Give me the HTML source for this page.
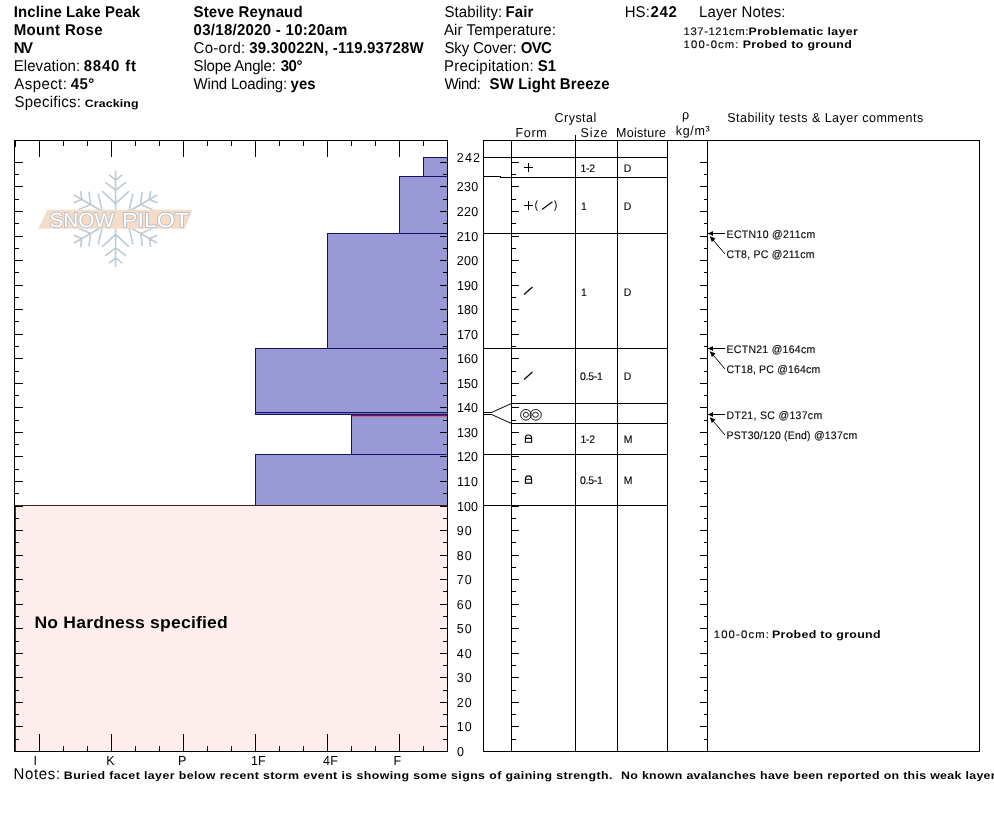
<!DOCTYPE html>
<html><head><meta charset="utf-8"><title>Snow Pit Profile</title>
<style>html,body{margin:0;padding:0;background:#fff;overflow:hidden}svg{display:block;font-family:'Liberation Sans', sans-serif}text{white-space:pre;text-rendering:geometricPrecision}</style>
</head><body>
<svg width="994" height="840" viewBox="0 0 994 840" shape-rendering="auto">
<rect width="994" height="840" fill="#fff"/>
<g stroke="#bccad4" stroke-width="1.6" fill="none" stroke-linecap="round"><g transform="rotate(0 115.6 219)"><path d="M115.6 219V171.5 M115.6 180.1L109.3 175M115.6 180.1L121.9 175 M115.6 190.1L105.7 182.6M115.6 190.1L125.5 182.6 M115.6 203.7L102.7 191.7M115.6 203.7L128.5 191.7"/></g><g transform="rotate(60 115.6 219)"><path d="M115.6 219V171.5 M115.6 180.1L109.3 175M115.6 180.1L121.9 175 M115.6 190.1L105.7 182.6M115.6 190.1L125.5 182.6 M115.6 203.7L102.7 191.7M115.6 203.7L128.5 191.7"/></g><g transform="rotate(120 115.6 219)"><path d="M115.6 219V171.5 M115.6 180.1L109.3 175M115.6 180.1L121.9 175 M115.6 190.1L105.7 182.6M115.6 190.1L125.5 182.6 M115.6 203.7L102.7 191.7M115.6 203.7L128.5 191.7"/></g><g transform="rotate(180 115.6 219)"><path d="M115.6 219V171.5 M115.6 180.1L109.3 175M115.6 180.1L121.9 175 M115.6 190.1L105.7 182.6M115.6 190.1L125.5 182.6 M115.6 203.7L102.7 191.7M115.6 203.7L128.5 191.7"/></g><g transform="rotate(240 115.6 219)"><path d="M115.6 219V171.5 M115.6 180.1L109.3 175M115.6 180.1L121.9 175 M115.6 190.1L105.7 182.6M115.6 190.1L125.5 182.6 M115.6 203.7L102.7 191.7M115.6 203.7L128.5 191.7"/></g><g transform="rotate(300 115.6 219)"><path d="M115.6 219V171.5 M115.6 180.1L109.3 175M115.6 180.1L121.9 175 M115.6 190.1L105.7 182.6M115.6 190.1L125.5 182.6 M115.6 203.7L102.7 191.7M115.6 203.7L128.5 191.7"/></g></g><path d="M47.5 209.8H192.7L184.8 228.8H38.1Z" fill="#f3ddc9"/><g font-size="20.5" fill="#fff" stroke="#babdc1" stroke-width="1.7" paint-order="stroke" stroke-linejoin="round"><text x="49.5" y="226.9" textLength="64.5" lengthAdjust="spacingAndGlyphs">SNOW</text><text x="122" y="226.9" textLength="67" lengthAdjust="spacingAndGlyphs">PILOT</text></g>
<rect x="15" y="505" width="433" height="246" fill="#ffeeee"/>
<rect x="423" y="157" width="25" height="20" fill="#9999d6"/>
<rect x="399" y="176" width="49" height="58" fill="#9999d6"/>
<rect x="327" y="233" width="121" height="116" fill="#9999d6"/>
<rect x="255" y="348" width="193" height="65" fill="#9999d6"/>
<rect x="255" y="412" width="193" height="3" fill="#9999d6"/>
<rect x="351" y="414" width="97" height="41" fill="#9999d6"/>
<rect x="255" y="454" width="193" height="52" fill="#9999d6"/>
<rect x="423.5" y="157.5" width="24" height="19" fill="none" stroke="#15115f" stroke-width="1"/>
<rect x="399.5" y="176.5" width="48" height="57" fill="none" stroke="#15115f" stroke-width="1"/>
<rect x="327.5" y="233.5" width="120" height="115" fill="none" stroke="#15115f" stroke-width="1"/>
<rect x="255.5" y="348.5" width="192" height="64" fill="none" stroke="#15115f" stroke-width="1"/>
<rect x="255.5" y="412.5" width="192" height="2" fill="none" stroke="#15115f" stroke-width="1"/>
<rect x="351.5" y="414.5" width="96" height="40" fill="none" stroke="#15115f" stroke-width="1"/>
<rect x="255.5" y="454.5" width="192" height="51" fill="none" stroke="#15115f" stroke-width="1"/>
<rect x="256" y="413" width="191" height="1" fill="#7a78d8"/>
<rect x="352" y="415" width="96" height="1" fill="#7a1c5e"/>
<rect x="352" y="416" width="96" height="1" fill="#c06a9c"/>
<rect x="14" y="505" width="434" height="1" fill="#4a1c14"/>
<rect x="15" y="506" width="1" height="245" fill="#5a2a20"/>
<rect x="14.5" y="140.5" width="433" height="611" fill="none" stroke="#000"/>
<rect x="39" y="141" width="1" height="16" fill="#000"/>
<rect x="39" y="734" width="1" height="17" fill="#000"/>
<rect x="63" y="141" width="1" height="5" fill="#000"/>
<rect x="63" y="746" width="1" height="5" fill="#000"/>
<rect x="87" y="141" width="1" height="5" fill="#000"/>
<rect x="87" y="746" width="1" height="5" fill="#000"/>
<rect x="111" y="141" width="1" height="16" fill="#000"/>
<rect x="111" y="734" width="1" height="17" fill="#000"/>
<rect x="135" y="141" width="1" height="5" fill="#000"/>
<rect x="135" y="746" width="1" height="5" fill="#000"/>
<rect x="159" y="141" width="1" height="5" fill="#000"/>
<rect x="159" y="746" width="1" height="5" fill="#000"/>
<rect x="183" y="141" width="1" height="16" fill="#000"/>
<rect x="183" y="734" width="1" height="17" fill="#000"/>
<rect x="207" y="141" width="1" height="5" fill="#000"/>
<rect x="207" y="746" width="1" height="5" fill="#000"/>
<rect x="231" y="141" width="1" height="5" fill="#000"/>
<rect x="231" y="746" width="1" height="5" fill="#000"/>
<rect x="255" y="141" width="1" height="16" fill="#000"/>
<rect x="255" y="734" width="1" height="17" fill="#000"/>
<rect x="279" y="141" width="1" height="5" fill="#000"/>
<rect x="279" y="746" width="1" height="5" fill="#000"/>
<rect x="303" y="141" width="1" height="5" fill="#000"/>
<rect x="303" y="746" width="1" height="5" fill="#000"/>
<rect x="327" y="141" width="1" height="16" fill="#000"/>
<rect x="327" y="734" width="1" height="17" fill="#000"/>
<rect x="351" y="141" width="1" height="5" fill="#000"/>
<rect x="351" y="746" width="1" height="5" fill="#000"/>
<rect x="375" y="141" width="1" height="5" fill="#000"/>
<rect x="375" y="746" width="1" height="5" fill="#000"/>
<rect x="399" y="141" width="1" height="16" fill="#000"/>
<rect x="399" y="734" width="1" height="17" fill="#000"/>
<rect x="423" y="141" width="1" height="5" fill="#000"/>
<rect x="423" y="746" width="1" height="5" fill="#000"/>
<rect x="15" y="141" width="1" height="6" fill="#000"/>
<rect x="15" y="739" width="4" height="1" fill="#000"/>
<rect x="443" y="739" width="4" height="1" fill="#000"/>
<rect x="512" y="739" width="4" height="1" fill="#000"/>
<rect x="704" y="739" width="3" height="1" fill="#000"/>
<rect x="15" y="726" width="8" height="1" fill="#000"/>
<rect x="440" y="726" width="7" height="1" fill="#000"/>
<rect x="512" y="726" width="7" height="1" fill="#000"/>
<rect x="700" y="726" width="7" height="1" fill="#000"/>
<rect x="15" y="714" width="4" height="1" fill="#000"/>
<rect x="443" y="714" width="4" height="1" fill="#000"/>
<rect x="512" y="714" width="4" height="1" fill="#000"/>
<rect x="704" y="714" width="3" height="1" fill="#000"/>
<rect x="15" y="702" width="8" height="1" fill="#000"/>
<rect x="440" y="702" width="7" height="1" fill="#000"/>
<rect x="512" y="702" width="7" height="1" fill="#000"/>
<rect x="700" y="702" width="7" height="1" fill="#000"/>
<rect x="15" y="690" width="4" height="1" fill="#000"/>
<rect x="443" y="690" width="4" height="1" fill="#000"/>
<rect x="512" y="690" width="4" height="1" fill="#000"/>
<rect x="704" y="690" width="3" height="1" fill="#000"/>
<rect x="15" y="677" width="8" height="1" fill="#000"/>
<rect x="440" y="677" width="7" height="1" fill="#000"/>
<rect x="512" y="677" width="7" height="1" fill="#000"/>
<rect x="700" y="677" width="7" height="1" fill="#000"/>
<rect x="15" y="665" width="4" height="1" fill="#000"/>
<rect x="443" y="665" width="4" height="1" fill="#000"/>
<rect x="512" y="665" width="4" height="1" fill="#000"/>
<rect x="704" y="665" width="3" height="1" fill="#000"/>
<rect x="15" y="653" width="8" height="1" fill="#000"/>
<rect x="440" y="653" width="7" height="1" fill="#000"/>
<rect x="512" y="653" width="7" height="1" fill="#000"/>
<rect x="700" y="653" width="7" height="1" fill="#000"/>
<rect x="15" y="641" width="4" height="1" fill="#000"/>
<rect x="443" y="641" width="4" height="1" fill="#000"/>
<rect x="512" y="641" width="4" height="1" fill="#000"/>
<rect x="704" y="641" width="3" height="1" fill="#000"/>
<rect x="15" y="628" width="8" height="1" fill="#000"/>
<rect x="440" y="628" width="7" height="1" fill="#000"/>
<rect x="512" y="628" width="7" height="1" fill="#000"/>
<rect x="700" y="628" width="7" height="1" fill="#000"/>
<rect x="15" y="616" width="4" height="1" fill="#000"/>
<rect x="443" y="616" width="4" height="1" fill="#000"/>
<rect x="512" y="616" width="4" height="1" fill="#000"/>
<rect x="704" y="616" width="3" height="1" fill="#000"/>
<rect x="15" y="604" width="8" height="1" fill="#000"/>
<rect x="440" y="604" width="7" height="1" fill="#000"/>
<rect x="512" y="604" width="7" height="1" fill="#000"/>
<rect x="700" y="604" width="7" height="1" fill="#000"/>
<rect x="15" y="591" width="4" height="1" fill="#000"/>
<rect x="443" y="591" width="4" height="1" fill="#000"/>
<rect x="512" y="591" width="4" height="1" fill="#000"/>
<rect x="704" y="591" width="3" height="1" fill="#000"/>
<rect x="15" y="579" width="8" height="1" fill="#000"/>
<rect x="440" y="579" width="7" height="1" fill="#000"/>
<rect x="512" y="579" width="7" height="1" fill="#000"/>
<rect x="700" y="579" width="7" height="1" fill="#000"/>
<rect x="15" y="567" width="4" height="1" fill="#000"/>
<rect x="443" y="567" width="4" height="1" fill="#000"/>
<rect x="512" y="567" width="4" height="1" fill="#000"/>
<rect x="704" y="567" width="3" height="1" fill="#000"/>
<rect x="15" y="555" width="8" height="1" fill="#000"/>
<rect x="440" y="555" width="7" height="1" fill="#000"/>
<rect x="512" y="555" width="7" height="1" fill="#000"/>
<rect x="700" y="555" width="7" height="1" fill="#000"/>
<rect x="15" y="542" width="4" height="1" fill="#000"/>
<rect x="443" y="542" width="4" height="1" fill="#000"/>
<rect x="512" y="542" width="4" height="1" fill="#000"/>
<rect x="704" y="542" width="3" height="1" fill="#000"/>
<rect x="15" y="530" width="8" height="1" fill="#000"/>
<rect x="440" y="530" width="7" height="1" fill="#000"/>
<rect x="512" y="530" width="7" height="1" fill="#000"/>
<rect x="700" y="530" width="7" height="1" fill="#000"/>
<rect x="15" y="518" width="4" height="1" fill="#000"/>
<rect x="443" y="518" width="4" height="1" fill="#000"/>
<rect x="512" y="518" width="4" height="1" fill="#000"/>
<rect x="704" y="518" width="3" height="1" fill="#000"/>
<rect x="15" y="506" width="8" height="1" fill="#000"/>
<rect x="440" y="506" width="7" height="1" fill="#000"/>
<rect x="512" y="506" width="7" height="1" fill="#000"/>
<rect x="700" y="506" width="7" height="1" fill="#000"/>
<rect x="15" y="493" width="4" height="1" fill="#000"/>
<rect x="443" y="493" width="4" height="1" fill="#000"/>
<rect x="512" y="493" width="4" height="1" fill="#000"/>
<rect x="704" y="493" width="3" height="1" fill="#000"/>
<rect x="15" y="481" width="8" height="1" fill="#000"/>
<rect x="440" y="481" width="7" height="1" fill="#000"/>
<rect x="512" y="481" width="7" height="1" fill="#000"/>
<rect x="700" y="481" width="7" height="1" fill="#000"/>
<rect x="15" y="469" width="4" height="1" fill="#000"/>
<rect x="443" y="469" width="4" height="1" fill="#000"/>
<rect x="512" y="469" width="4" height="1" fill="#000"/>
<rect x="704" y="469" width="3" height="1" fill="#000"/>
<rect x="15" y="456" width="8" height="1" fill="#000"/>
<rect x="440" y="456" width="7" height="1" fill="#000"/>
<rect x="512" y="456" width="7" height="1" fill="#000"/>
<rect x="700" y="456" width="7" height="1" fill="#000"/>
<rect x="15" y="444" width="4" height="1" fill="#000"/>
<rect x="443" y="444" width="4" height="1" fill="#000"/>
<rect x="512" y="444" width="4" height="1" fill="#000"/>
<rect x="704" y="444" width="3" height="1" fill="#000"/>
<rect x="15" y="432" width="8" height="1" fill="#000"/>
<rect x="440" y="432" width="7" height="1" fill="#000"/>
<rect x="512" y="432" width="7" height="1" fill="#000"/>
<rect x="700" y="432" width="7" height="1" fill="#000"/>
<rect x="15" y="420" width="4" height="1" fill="#000"/>
<rect x="443" y="420" width="4" height="1" fill="#000"/>
<rect x="512" y="420" width="4" height="1" fill="#000"/>
<rect x="704" y="420" width="3" height="1" fill="#000"/>
<rect x="15" y="407" width="8" height="1" fill="#000"/>
<rect x="440" y="407" width="7" height="1" fill="#000"/>
<rect x="512" y="407" width="7" height="1" fill="#000"/>
<rect x="700" y="407" width="7" height="1" fill="#000"/>
<rect x="15" y="395" width="4" height="1" fill="#000"/>
<rect x="443" y="395" width="4" height="1" fill="#000"/>
<rect x="512" y="395" width="4" height="1" fill="#000"/>
<rect x="704" y="395" width="3" height="1" fill="#000"/>
<rect x="15" y="383" width="8" height="1" fill="#000"/>
<rect x="440" y="383" width="7" height="1" fill="#000"/>
<rect x="512" y="383" width="7" height="1" fill="#000"/>
<rect x="700" y="383" width="7" height="1" fill="#000"/>
<rect x="15" y="371" width="4" height="1" fill="#000"/>
<rect x="443" y="371" width="4" height="1" fill="#000"/>
<rect x="512" y="371" width="4" height="1" fill="#000"/>
<rect x="704" y="371" width="3" height="1" fill="#000"/>
<rect x="15" y="358" width="8" height="1" fill="#000"/>
<rect x="440" y="358" width="7" height="1" fill="#000"/>
<rect x="512" y="358" width="7" height="1" fill="#000"/>
<rect x="700" y="358" width="7" height="1" fill="#000"/>
<rect x="15" y="346" width="4" height="1" fill="#000"/>
<rect x="443" y="346" width="4" height="1" fill="#000"/>
<rect x="512" y="346" width="4" height="1" fill="#000"/>
<rect x="704" y="346" width="3" height="1" fill="#000"/>
<rect x="15" y="334" width="8" height="1" fill="#000"/>
<rect x="440" y="334" width="7" height="1" fill="#000"/>
<rect x="512" y="334" width="7" height="1" fill="#000"/>
<rect x="700" y="334" width="7" height="1" fill="#000"/>
<rect x="15" y="321" width="4" height="1" fill="#000"/>
<rect x="443" y="321" width="4" height="1" fill="#000"/>
<rect x="512" y="321" width="4" height="1" fill="#000"/>
<rect x="704" y="321" width="3" height="1" fill="#000"/>
<rect x="15" y="309" width="8" height="1" fill="#000"/>
<rect x="440" y="309" width="7" height="1" fill="#000"/>
<rect x="512" y="309" width="7" height="1" fill="#000"/>
<rect x="700" y="309" width="7" height="1" fill="#000"/>
<rect x="15" y="297" width="4" height="1" fill="#000"/>
<rect x="443" y="297" width="4" height="1" fill="#000"/>
<rect x="512" y="297" width="4" height="1" fill="#000"/>
<rect x="704" y="297" width="3" height="1" fill="#000"/>
<rect x="15" y="285" width="8" height="1" fill="#000"/>
<rect x="440" y="285" width="7" height="1" fill="#000"/>
<rect x="512" y="285" width="7" height="1" fill="#000"/>
<rect x="700" y="285" width="7" height="1" fill="#000"/>
<rect x="15" y="272" width="4" height="1" fill="#000"/>
<rect x="443" y="272" width="4" height="1" fill="#000"/>
<rect x="512" y="272" width="4" height="1" fill="#000"/>
<rect x="704" y="272" width="3" height="1" fill="#000"/>
<rect x="15" y="260" width="8" height="1" fill="#000"/>
<rect x="440" y="260" width="7" height="1" fill="#000"/>
<rect x="512" y="260" width="7" height="1" fill="#000"/>
<rect x="700" y="260" width="7" height="1" fill="#000"/>
<rect x="15" y="248" width="4" height="1" fill="#000"/>
<rect x="443" y="248" width="4" height="1" fill="#000"/>
<rect x="512" y="248" width="4" height="1" fill="#000"/>
<rect x="704" y="248" width="3" height="1" fill="#000"/>
<rect x="15" y="236" width="8" height="1" fill="#000"/>
<rect x="440" y="236" width="7" height="1" fill="#000"/>
<rect x="512" y="236" width="7" height="1" fill="#000"/>
<rect x="700" y="236" width="7" height="1" fill="#000"/>
<rect x="15" y="223" width="4" height="1" fill="#000"/>
<rect x="443" y="223" width="4" height="1" fill="#000"/>
<rect x="512" y="223" width="4" height="1" fill="#000"/>
<rect x="704" y="223" width="3" height="1" fill="#000"/>
<rect x="15" y="211" width="8" height="1" fill="#000"/>
<rect x="440" y="211" width="7" height="1" fill="#000"/>
<rect x="512" y="211" width="7" height="1" fill="#000"/>
<rect x="700" y="211" width="7" height="1" fill="#000"/>
<rect x="15" y="199" width="4" height="1" fill="#000"/>
<rect x="443" y="199" width="4" height="1" fill="#000"/>
<rect x="512" y="199" width="4" height="1" fill="#000"/>
<rect x="704" y="199" width="3" height="1" fill="#000"/>
<rect x="15" y="186" width="8" height="1" fill="#000"/>
<rect x="440" y="186" width="7" height="1" fill="#000"/>
<rect x="512" y="186" width="7" height="1" fill="#000"/>
<rect x="700" y="186" width="7" height="1" fill="#000"/>
<rect x="15" y="174" width="4" height="1" fill="#000"/>
<rect x="443" y="174" width="4" height="1" fill="#000"/>
<rect x="512" y="174" width="4" height="1" fill="#000"/>
<rect x="704" y="174" width="3" height="1" fill="#000"/>
<rect x="15" y="162" width="8" height="1" fill="#000"/>
<rect x="440" y="162" width="7" height="1" fill="#000"/>
<rect x="512" y="162" width="7" height="1" fill="#000"/>
<rect x="700" y="162" width="7" height="1" fill="#000"/>
<rect x="483.5" y="140.5" width="496" height="611" fill="none" stroke="#000"/>
<rect x="511" y="140" width="1" height="612" fill="#000"/>
<rect x="575" y="135" width="1" height="617" fill="#000"/>
<rect x="617" y="140" width="1" height="612" fill="#000"/>
<rect x="667" y="140" width="1" height="612" fill="#000"/>
<rect x="707" y="140" width="1" height="612" fill="#000"/>
<rect x="511" y="157" width="157" height="1" fill="#000"/>
<rect x="511" y="177" width="157" height="1" fill="#000"/>
<rect x="511" y="233" width="157" height="1" fill="#000"/>
<rect x="511" y="348" width="157" height="1" fill="#000"/>
<rect x="511" y="403" width="157" height="1" fill="#000"/>
<rect x="511" y="423" width="157" height="1" fill="#000"/>
<rect x="511" y="454" width="157" height="1" fill="#000"/>
<rect x="511" y="505" width="157" height="1" fill="#000"/>
<rect x="483" y="157" width="29" height="1" fill="#000"/>
<rect x="483" y="233" width="29" height="1" fill="#000"/>
<rect x="483" y="348" width="29" height="1" fill="#000"/>
<rect x="483" y="454" width="29" height="1" fill="#000"/>
<rect x="483" y="505" width="29" height="1" fill="#000"/>
<rect x="483" y="176" width="18" height="1" fill="#000"/>
<rect x="500" y="177" width="12" height="1" fill="#000"/>
<rect x="483" y="412" width="9" height="1" fill="#000"/>
<rect x="483" y="414" width="9" height="1" fill="#000"/>
<path d="M491.5 412.5L511.5 403.5M491.5 414.5L511.5 423.5" stroke="#000" fill="none"/>
<rect x="511" y="505" width="8" height="2" fill="#000"/>
<path d="M524.0 167.5H533.0M528.5 163.0V172.0" stroke="#000" stroke-width="1" fill="none"/>
<path d="M524.0 205.5H533.0M528.5 201.0V210.0" stroke="#000" stroke-width="1" fill="none"/>
<path d="M537.3 200.4Q534 205.6 537.3 210.8M554.6 200.4Q557.9 205.6 554.6 210.8" stroke="#000" fill="none"/>
<path d="M542 209.5L552.5 201.7" stroke="#000" stroke-width="1.1" fill="none"/>
<path d="M524 294.5L532.5 287" stroke="#000" stroke-width="1.2" fill="none"/>
<path d="M524 379.5L532.5 372" stroke="#000" stroke-width="1.2" fill="none"/>
<g stroke="#000" fill="none" stroke-width="0.9"><circle cx="525.9" cy="414.8" r="5.3"/><circle cx="525.9" cy="414.8" r="2.5"/><ellipse cx="535.7" cy="414.8" rx="5.6" ry="5.3"/><ellipse cx="535.5" cy="414.8" rx="2.9" ry="2.5"/></g>
<path d="M525.4 442.2V438.09999999999997a3.1 3.1 0 0 1 6.2 0V442.2ZM525.4 438.4H531.6" stroke="#000" stroke-width="1.1" fill="none"/>
<path d="M525.4 483.1V479.0a3.1 3.1 0 0 1 6.2 0V483.1ZM525.4 479.3H531.6" stroke="#000" stroke-width="1.1" fill="none"/>
<path d="M708 233.5H725" stroke="#000" fill="none"/><path d="M708 233.5l5 -2.6v5.2z" fill="#000"/><path d="M711 237.5L725 254" stroke="#000" fill="none"/><path d="M709.8 236.2l5.8 2.2l-3.8 3.6z" fill="#000"/>
<path d="M708 348.5H725" stroke="#000" fill="none"/><path d="M708 348.5l5 -2.6v5.2z" fill="#000"/><path d="M711 352.5L725 369" stroke="#000" fill="none"/><path d="M709.8 351.2l5.8 2.2l-3.8 3.6z" fill="#000"/>
<path d="M708 414.5H725" stroke="#000" fill="none"/><path d="M708 414.5l5 -2.6v5.2z" fill="#000"/><path d="M711 418.5L725 435" stroke="#000" fill="none"/><path d="M709.8 417.2l5.8 2.2l-3.8 3.6z" fill="#000"/>
<text transform="translate(13.80 17) scale(1.0 1.04)" font-size="15" font-weight="bold" letter-spacing="0.080">Incline Lake Peak</text>
<text transform="translate(13.80 35) scale(1.0 1.04)" font-size="15" font-weight="bold" letter-spacing="0.324">Mount Rose</text>
<text transform="translate(13.80 53) scale(1.0 1.04)" font-size="15" font-weight="bold" letter-spacing="-1.633">NV</text>
<text transform="translate(13.80 71) scale(1.0 1.04)" font-size="15" letter-spacing="0.044">Elevation:</text>
<text transform="translate(83.70 71) scale(1.0 1.04)" font-size="15" font-weight="bold" letter-spacing="0.795">8840 ft</text>
<text transform="translate(14.30 89) scale(1.0 1.04)" font-size="15" letter-spacing="0.424">Aspect:</text>
<text transform="translate(70.80 89) scale(1.0 1.04)" font-size="15" font-weight="bold" letter-spacing="0.358">45°</text>
<text transform="translate(14.50 107) scale(1.0 1.04)" font-size="15" letter-spacing="0.242">Specifics:</text>
<text transform="translate(84.80 107) scale(1.18 1.04)" font-size="10.5" font-weight="bold" letter-spacing="0.093">Cracking</text>
<text transform="translate(193.60 17) scale(1.0 1.04)" font-size="15" font-weight="bold" letter-spacing="0.118">Steve Reynaud</text>
<text transform="translate(193.60 35) scale(1.0 1.04)" font-size="15" font-weight="bold" letter-spacing="0.273">03/18/2020 - 10:20am</text>
<text transform="translate(193.60 53) scale(1.0 1.04)" font-size="15" letter-spacing="0.258">Co-ord:</text>
<text transform="translate(249.30 53) scale(1.0 1.04)" font-size="15" font-weight="bold" letter-spacing="0.166">39.30022N, -119.93728W</text>
<text transform="translate(193.60 71) scale(1.0 1.04)" font-size="15" letter-spacing="-0.181">Slope Angle:</text>
<text transform="translate(280.70 71) scale(1.0 1.04)" font-size="15" font-weight="bold" letter-spacing="-0.492">30°</text>
<text transform="translate(193.60 89) scale(1.0 1.04)" font-size="15" letter-spacing="-0.194">Wind Loading:</text>
<text transform="translate(290.60 89) scale(1.0 1.04)" font-size="15" font-weight="bold" letter-spacing="-0.042">yes</text>
<text transform="translate(444.40 17) scale(1.0 1.04)" font-size="15" letter-spacing="0.131">Stability:</text>
<text transform="translate(505.60 17) scale(1.0 1.04)" font-size="15" font-weight="bold" letter-spacing="0.109">Fair</text>
<text transform="translate(444.00 35) scale(1.0 1.04)" font-size="15" letter-spacing="0.086">Air Temperature:</text>
<text transform="translate(444.40 53) scale(1.0 1.04)" font-size="15" letter-spacing="-0.121">Sky Cover:</text>
<text transform="translate(520.80 53) scale(1.0 1.04)" font-size="15" font-weight="bold" letter-spacing="-0.786">OVC</text>
<text transform="translate(444.00 71) scale(1.0 1.04)" font-size="15" letter-spacing="0.227">Precipitation:</text>
<text transform="translate(537.80 71) scale(1.0 1.04)" font-size="15" font-weight="bold">S1</text>
<text transform="translate(444.40 89) scale(1.0 1.04)" font-size="15" letter-spacing="-0.469">Wind:</text>
<text transform="translate(489.60 89) scale(1.0 1.04)" font-size="15" font-weight="bold" letter-spacing="0.114">SW Light Breeze</text>
<text transform="translate(624.70 17) scale(1.0 1.04)" font-size="15" letter-spacing="0.081">HS:</text>
<text transform="translate(650.50 17) scale(1.0 1.04)" font-size="15" font-weight="bold" letter-spacing="0.608">242</text>
<text transform="translate(699.00 17) scale(1.0 1.04)" font-size="15" letter-spacing="0.130">Layer Notes:</text>
<text transform="translate(683.60 35) scale(1.08 1.04)" font-size="10.5" letter-spacing="0.505" stroke="#000" stroke-width="0.12">137-121cm:</text>
<text transform="translate(748.50 35) scale(1.18 1.04)" font-size="10.5" font-weight="bold" letter-spacing="0.323">Problematic layer</text>
<text transform="translate(683.60 48) scale(1.08 1.04)" font-size="10.5" letter-spacing="1.008" stroke="#000" stroke-width="0.12">100-0cm:</text>
<text transform="translate(742.70 48) scale(1.18 1.04)" font-size="10.5" font-weight="bold" letter-spacing="0.292">Probed to ground</text>
<text transform="translate(554.60 122) scale(1.0 1.04)" font-size="12.5" letter-spacing="0.448">Crystal</text>
<text transform="translate(515.60 137) scale(1.0 1.04)" font-size="12.5" letter-spacing="0.617">Form</text>
<text transform="translate(580.60 137) scale(1.0 1.04)" font-size="12.5" letter-spacing="0.845">Size</text>
<text transform="translate(616.00 137) scale(1.0 1.04)" font-size="12.5" letter-spacing="0.289">Moisture</text>
<text transform="translate(682.00 119) scale(1.0 1.04)" font-size="12.5">ρ</text>
<text transform="translate(675.70 135) scale(1.0 1.04)" font-size="12.5" letter-spacing="0.678">kg/m³</text>
<text transform="translate(727.20 122) scale(1.0 1.04)" font-size="12.5" letter-spacing="0.475">Stability tests &amp; Layer comments</text>
<text transform="translate(33.60 765) scale(1.0 1.04)" font-size="12.5">I</text>
<text transform="translate(106.30 765) scale(1.0 1.04)" font-size="12.5">K</text>
<text transform="translate(178.00 765) scale(1.0 1.04)" font-size="12.5">P</text>
<text transform="translate(251.00 765) scale(1.0 1.04)" font-size="12.5">1F</text>
<text transform="translate(323.10 765) scale(1.0 1.04)" font-size="12.5" letter-spacing="0.148">4F</text>
<text transform="translate(393.60 765) scale(1.0 1.04)" font-size="12.5">F</text>
<text transform="translate(13.50 779) scale(1.0 1.04)" font-size="15" letter-spacing="0.663">Notes:</text>
<text transform="translate(63.80 779) scale(1.18 1.04)" font-size="10.5" font-weight="bold" letter-spacing="0.335">Buried facet layer below recent storm event is showing some signs of gaining strength.</text>
<text transform="translate(621.00 779) scale(1.18 1.04)" font-size="10.5" font-weight="bold" letter-spacing="0.261">No known avalanches have been reported on this weak layer</text>
<text transform="translate(34.40 628) scale(1.1 1.04)" font-size="16" font-weight="bold" letter-spacing="0.168">No Hardness specified</text>
<text transform="translate(713.70 638) scale(1.08 1.04)" font-size="10.5" letter-spacing="1.061" stroke="#000" stroke-width="0.12">100-0cm:</text>
<text transform="translate(772.00 638) scale(1.18 1.04)" font-size="10.5" font-weight="bold" letter-spacing="0.258">Probed to ground</text>
<text transform="translate(726.60 238) scale(1.0 1.04)" font-size="10.5" letter-spacing="0.331" stroke="#000" stroke-width="0.12">ECTN10 @211cm</text>
<text transform="translate(726.60 258) scale(1.0 1.04)" font-size="10.5" letter-spacing="0.252" stroke="#000" stroke-width="0.12">CT8, PC @211cm</text>
<text transform="translate(726.60 353) scale(1.0 1.04)" font-size="10.5" letter-spacing="0.266" stroke="#000" stroke-width="0.12">ECTN21 @164cm</text>
<text transform="translate(726.60 373) scale(1.0 1.04)" font-size="10.5" letter-spacing="0.168" stroke="#000" stroke-width="0.12">CT18, PC @164cm</text>
<text transform="translate(726.60 419) scale(1.0 1.04)" font-size="10.5" letter-spacing="0.311" stroke="#000" stroke-width="0.12">DT21, SC @137cm</text>
<text transform="translate(726.60 439) scale(1.0 1.04)" font-size="10.5" letter-spacing="0.206" stroke="#000" stroke-width="0.12">PST30/120 (End) @137cm</text>
<text transform="translate(580.60 172) scale(1.0 1.04)" font-size="10.5" letter-spacing="-0.318" stroke="#000" stroke-width="0.12">1-2</text>
<text transform="translate(623.80 172) scale(1.0 1.04)" font-size="10.5" stroke="#000" stroke-width="0.12">D</text>
<text transform="translate(581.00 210) scale(1.0 1.04)" font-size="10.5" stroke="#000" stroke-width="0.12">1</text>
<text transform="translate(623.80 210) scale(1.0 1.04)" font-size="10.5" stroke="#000" stroke-width="0.12">D</text>
<text transform="translate(581.00 295.5) scale(1.0 1.04)" font-size="10.5" stroke="#000" stroke-width="0.12">1</text>
<text transform="translate(623.80 295.5) scale(1.0 1.04)" font-size="10.5" stroke="#000" stroke-width="0.12">D</text>
<text transform="translate(580.00 380) scale(1.0 1.04)" font-size="10.5" letter-spacing="-0.298" stroke="#000" stroke-width="0.12">0.5-1</text>
<text transform="translate(623.80 380) scale(1.0 1.04)" font-size="10.5" stroke="#000" stroke-width="0.12">D</text>
<text transform="translate(580.60 443) scale(1.0 1.04)" font-size="10.5" letter-spacing="-0.318" stroke="#000" stroke-width="0.12">1-2</text>
<text transform="translate(623.80 443) scale(1.0 1.04)" font-size="10.5" stroke="#000" stroke-width="0.12">M</text>
<text transform="translate(580.00 484) scale(1.0 1.04)" font-size="10.5" letter-spacing="-0.298" stroke="#000" stroke-width="0.12">0.5-1</text>
<text transform="translate(623.80 484) scale(1.0 1.04)" font-size="10.5" stroke="#000" stroke-width="0.12">M</text>
<text transform="translate(457.00 756) scale(1.0 1.04)" font-size="12.5">0</text>
<text transform="translate(456.80 731) scale(1.0 1.04)" font-size="12.5" letter-spacing="0.948">10</text>
<text transform="translate(456.80 707) scale(1.0 1.04)" font-size="12.5" letter-spacing="0.948">20</text>
<text transform="translate(456.80 682) scale(1.0 1.04)" font-size="12.5" letter-spacing="0.948">30</text>
<text transform="translate(456.80 658) scale(1.0 1.04)" font-size="12.5" letter-spacing="0.948">40</text>
<text transform="translate(456.80 633) scale(1.0 1.04)" font-size="12.5" letter-spacing="0.948">50</text>
<text transform="translate(456.80 609) scale(1.0 1.04)" font-size="12.5" letter-spacing="0.948">60</text>
<text transform="translate(456.80 584) scale(1.0 1.04)" font-size="12.5" letter-spacing="0.948">70</text>
<text transform="translate(456.80 560) scale(1.0 1.04)" font-size="12.5" letter-spacing="0.948">80</text>
<text transform="translate(456.80 535) scale(1.0 1.04)" font-size="12.5" letter-spacing="0.948">90</text>
<text transform="translate(457.00 511) scale(1.0 1.04)" font-size="12.5" letter-spacing="0.098">100</text>
<text transform="translate(457.00 486) scale(1.0 1.04)" font-size="12.5" letter-spacing="0.562">110</text>
<text transform="translate(457.00 461) scale(1.0 1.04)" font-size="12.5" letter-spacing="0.098">120</text>
<text transform="translate(457.00 437) scale(1.0 1.04)" font-size="12.5" letter-spacing="0.098">130</text>
<text transform="translate(457.00 412) scale(1.0 1.04)" font-size="12.5" letter-spacing="0.098">140</text>
<text transform="translate(457.00 388) scale(1.0 1.04)" font-size="12.5" letter-spacing="0.098">150</text>
<text transform="translate(457.00 363) scale(1.0 1.04)" font-size="12.5" letter-spacing="0.098">160</text>
<text transform="translate(457.00 339) scale(1.0 1.04)" font-size="12.5" letter-spacing="0.098">170</text>
<text transform="translate(457.00 314) scale(1.0 1.04)" font-size="12.5" letter-spacing="0.098">180</text>
<text transform="translate(457.00 290) scale(1.0 1.04)" font-size="12.5" letter-spacing="0.098">190</text>
<text transform="translate(456.80 265) scale(1.0 1.04)" font-size="12.5" letter-spacing="0.298">200</text>
<text transform="translate(456.80 241) scale(1.0 1.04)" font-size="12.5" letter-spacing="0.298">210</text>
<text transform="translate(456.80 216) scale(1.0 1.04)" font-size="12.5" letter-spacing="0.298">220</text>
<text transform="translate(456.80 191) scale(1.0 1.04)" font-size="12.5" letter-spacing="0.298">230</text>
<text transform="translate(456.80 162) scale(1.0 1.04)" font-size="12.5" letter-spacing="1.198">242</text>
</svg>
</body></html>
